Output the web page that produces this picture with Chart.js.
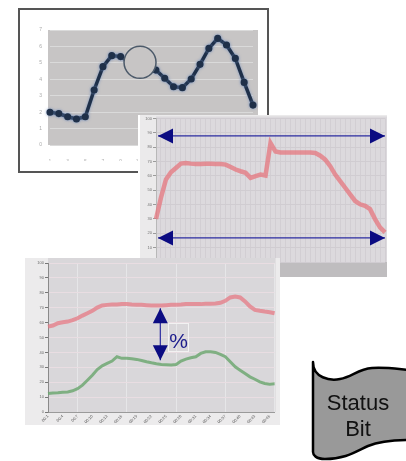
<!DOCTYPE html>
<html>
<head>
<meta charset="utf-8">
<script src="https://cdn.jsdelivr.net/npm/chart.js@4.4.1/dist/chart.umd.min.js"></script>
<style>
  body { margin: 0; background: #fff; font-family: 'Liberation Sans', Arial, sans-serif; }
  #page { position: relative; width: 406px; height: 461px; overflow: hidden; background: #fff; }
  .panel { position: absolute; box-sizing: border-box; }
  #panel1 { left: 18px; top: 8px; width: 251px; height: 165px; border: 2px solid #555; background: #fff; }
  #panel2 { left: 138px; top: 115px; width: 249px; height: 162px; background: #ebeaeb; }
  #panel3 { left: 25px; top: 258px; width: 255px; height: 167px; background: #ecebec; }
  #pct { position: absolute; left: 168px; top: 323px; width: 21px; height: 29px; box-sizing: border-box;
         border: 1px solid #f2f2f2; color: #1c1c8c; font-size: 21px; line-height: 33px; text-align: center; }
  #statusShape { position: absolute; left: 0; top: 0; }
  #statusText { position: absolute; left: 313px; top: 390px; width: 90px; text-align: center;
                font-size: 22px; line-height: 26px; color: #111; }
</style>
</head>
<body>
<div id="page">
  <div class="panel" id="panel1"><canvas id="chart1" width="247" height="161"></canvas></div>
  <div class="panel" id="panel2"><canvas id="chart2" width="249" height="162"></canvas></div>
  <div class="panel" id="panel3"><canvas id="chart3" width="255" height="167"></canvas></div>
  <div id="pct">%</div>
  <svg id="statusShape" width="406" height="461">
    <path d="M313,362 C313,378 330,381 340,379 C352,377 358,369 372,368 C385,367 398,369 410,370
             L410,440 C395,440 380,441 368,446 C355,452 345,459 325,459 C316,459 313,455 313,452 Z"
          fill="#999999" stroke="#000" stroke-width="2.5" stroke-linejoin="round"/>
  </svg>
  <div id="statusText">Status<br>Bit</div>
</div>
<script>
// panel 1: navy trend with markers
const trendLabels = ['1','2','3','4','5','6','7','8','9','10','11','12','13','14','15','16','17','18','19','20','21','22','23','24'];
const trendValues = [1.99, 1.91, 1.72, 1.58, 1.72, 3.35, 4.77, 5.44, 5.38, 5.07, 4.87, 4.71,
                     4.56, 4.06, 3.55, 3.49, 4.02, 4.91, 5.88, 6.49, 6.09, 5.27, 3.81, 2.43];
const trendCircle = { x: 10.2, y: 5.03 };

// panel 2: red plateau between two span arrows
const spanLabels = ['1','2','3','4','5','6','7','8','9','10','11','12','13','14','15','16','17','18','19','20',
                    '21','22','23','24','25','26','27','28','29','30','31','32','33','34','35','36','37','38','39','40',
                    '41','42','43','44','45','46','47'];
const spanValues = [29.9, 44.8, 57.5, 62.5, 65.5, 68.5, 69.0, 68.5, 68.3, 68.3, 68.5, 68.5, 68.3, 68.3, 67.8, 66.2,
                    64.4, 63.2, 62.1, 58.6, 59.8, 60.9, 60.2, 82.8, 77.0, 76.3, 76.3, 76.3, 76.3, 76.3, 76.3, 76.3,
                    75.9, 74.0, 71.3, 66.7, 60.9, 56.3, 51.7, 47.1, 42.5, 40.2, 39.1, 36.8, 29.9, 24.1, 20.7];
const spanArrowLevels = [87.8, 16.8];

// panel 3: red and green series with the % gap arrow
const gapLabels = ['1','2','3','4','5','6','7','8','9','10','11','12','13','14','15','16','17','18','19','20',
                   '21','22','23','24','25','26','27','28','29','30','31','32','33','34','35','36','37','38','39','40',
                   '41','42','43','44','45','46','47'];
const upperValues = [57.3, 58.0, 59.6, 60.2, 60.7, 61.6, 62.9, 64.7, 66.3, 67.9, 70.1, 71.5, 71.9, 72.1, 72.1, 72.4,
                     72.4, 72.1, 71.9, 71.9, 71.7, 71.5, 71.5, 71.5, 71.7, 71.9, 71.9, 72.1, 72.4, 72.4, 72.4, 72.4,
                     72.6, 72.6, 72.8, 73.3, 74.6, 76.9, 77.5, 76.9, 74.2, 70.8, 68.5, 67.9, 67.4, 67.0, 66.3];
const lowerValues = [12.4, 12.8, 13.0, 13.3, 13.5, 14.2, 15.7, 18.0, 21.3, 24.7, 28.5, 31.0, 32.6, 34.2, 37.1, 36.0,
                     36.0, 35.7, 35.3, 34.6, 33.7, 33.0, 32.4, 31.9, 31.7, 31.5, 31.9, 34.2, 35.5, 36.4, 37.1, 39.3,
                     40.4, 40.4, 40.0, 38.7, 37.1, 33.7, 30.3, 28.1, 25.8, 23.6, 22.0, 20.2, 19.1, 18.7, 18.9];
const gapArrow = { x: 22.8, top: 69.7, bottom: 34.8 };

function arrowHead(ctx, x, y, angle, len, half) {
    ctx.save();
    ctx.translate(x, y);
    ctx.rotate(angle);
    ctx.beginPath();
    ctx.moveTo(0, 0);
    ctx.lineTo(-len, -half);
    ctx.lineTo(-len, half);
    ctx.closePath();
    ctx.fillStyle = '#0b0b82';
    ctx.fill();
    ctx.restore();
}

function doubleArrow(ctx, x1, y1, x2, y2) {
    const angle = Math.atan2(y2 - y1, x2 - x1);
    ctx.save();
    ctx.strokeStyle = '#2b2ba0';
    ctx.lineWidth = 1.2;
    ctx.beginPath();
    ctx.moveTo(x1, y1);
    ctx.lineTo(x2, y2);
    ctx.stroke();
    ctx.restore();
    arrowHead(ctx, x2, y2, angle, 15, 7.5);
    arrowHead(ctx, x1, y1, angle + Math.PI, 15, 7.5);
}

function baseOptions() {
    return {
        responsive: false,
        animation: false,
        events: [],
        plugins: { legend: { display: false }, tooltip: { enabled: false } }
    };
}

document.addEventListener('DOMContentLoaded', function() {

    // ---------- panel 1 ----------
    const opts1 = baseOptions();
    opts1.layout = { padding: { left: 0, top: 20, right: 14, bottom: 10 } };
    opts1.scales = {
        x: {
            offset: false,
            grid: { display: false },
            border: { display: false },
            ticks: { font: { size: 5 }, color: '#b4b4b4', maxRotation: 0, autoSkip: false, padding: 6,
                     callback: function(v, i) { return i % 2 === 0 ? this.getLabelForValue(v) : ''; } },
            afterFit: function(s) { s.height = 16; }
        },
        y: {
            min: 0, max: 7,
            ticks: { stepSize: 1, font: { size: 5 }, color: '#aaa', padding: 8 },
            grid: { color: '#dadada', drawTicks: false },
            border: { display: false },
            afterFit: function(s) { s.width = 30; }
        }
    };
    new Chart(document.getElementById('chart1'), {
        type: 'line',
        data: {
            labels: trendLabels,
            datasets: [{
                data: trendValues,
                borderColor: '#1f3049',
                backgroundColor: '#1f3049',
                pointBackgroundColor: '#1f3049',
                pointBorderColor: '#1f3049',
                pointRadius: 1.8,
                borderWidth: 3.5,
                tension: 0
            }]
        },
        options: opts1,
        plugins: [{
            id: 'plotGray',
            beforeDraw(chart) {
                const a = chart.chartArea, ctx = chart.ctx;
                ctx.save();
                ctx.fillStyle = '#c7c5c5';
                ctx.fillRect(a.left - 2, a.top, a.right - a.left + 7, a.bottom - a.top);
                ctx.restore();
            },
            beforeDatasetsDraw(chart) {
                chart.ctx.save();
                chart.ctx.shadowColor = 'rgba(110,140,190,0.8)';
                chart.ctx.shadowBlur = 3;
            },
            afterDatasetsDraw(chart) {
                const ctx = chart.ctx;
                ctx.restore();
                const cx = chart.scales.x.getPixelForValue(trendCircle.x);
                const cy = chart.scales.y.getPixelForValue(trendCircle.y);
                ctx.save();
                ctx.beginPath();
                ctx.arc(cx, cy, 16, 0, Math.PI * 2);
                ctx.fillStyle = '#c7c5c5';
                ctx.fill();
                ctx.strokeStyle = '#4c5a6a';
                ctx.lineWidth = 1.5;
                ctx.stroke();
                ctx.restore();
            }
        }]
    });

    // ---------- panel 2 ----------
    const opts2 = baseOptions();
    opts2.layout = { padding: { left: 0, top: 2, right: 2, bottom: 0 } };
    opts2.scales = {
        x: {
            offset: false,
            grid: { color: '#d2ced3', drawTicks: false },
            border: { display: false },
            ticks: { display: false },
            afterFit: function(s) { s.height = 15; }
        },
        y: {
            min: 0, max: 100,
            ticks: { stepSize: 5, font: { size: 4 }, color: '#707070', padding: 1 },
            grid: { color: '#d0ccd1', tickColor: '#9a9a9a', tickLength: 3 },
            border: { color: '#b8b8b8' },
            afterFit: function(s) { s.width = 18; }
        }
    };
    new Chart(document.getElementById('chart2'), {
        type: 'line',
        data: {
            labels: spanLabels,
            datasets: [{
                data: spanValues,
                borderColor: 'rgba(230,118,126,0.75)',
                borderWidth: 4.5,
                pointRadius: 0,
                tension: 0
            }]
        },
        options: opts2,
        plugins: [{
            id: 'spanBg',
            beforeDraw(chart) {
                const a = chart.chartArea, ctx = chart.ctx;
                ctx.save();
                ctx.fillStyle = '#dcd9dd';
                ctx.fillRect(a.left, a.top - 2, a.right - a.left + 2, a.bottom - a.top + 2);
                ctx.fillStyle = '#bfbdbf';
                ctx.fillRect(0, a.bottom, chart.width, chart.height - a.bottom);
                ctx.fillStyle = '#ffffff';
                ctx.fillRect(0, 0, 2, a.bottom);
                ctx.restore();
            },
            afterDatasetsDraw(chart) {
                const a = chart.chartArea;
                spanArrowLevels.forEach(function(v) {
                    const y = chart.scales.y.getPixelForValue(v);
                    doubleArrow(chart.ctx, a.left + 2, y, a.right, y);
                });
            }
        }]
    });

    // ---------- panel 3 ----------
    const opts3 = baseOptions();
    opts3.layout = { padding: { left: 0, top: 5, right: 1, bottom: 0 } };
    opts3.scales = {
        x: {
            offset: false,
            grid: {
                color: function(c) { return c.index % 10 === 6 ? '#e6e6e8' : 'rgba(0,0,0,0)'; },
                drawTicks: false
            },
            border: { color: '#9a9a9a' },
            ticks: { font: { size: 4 }, color: '#555', autoSkip: false, minRotation: 45, maxRotation: 45, padding: 2,
                     callback: function(v, i) { return i % 3 === 0 ? '00:' + this.getLabelForValue(v) : ''; } },
            afterFit: function(s) { s.height = 13; }
        },
        y: {
            min: 0, max: 100,
            ticks: { stepSize: 5, font: { size: 4 }, color: '#6a6a6a', padding: 1 },
            grid: { color: '#e9dde2', tickColor: '#777', tickLength: 3 },
            border: { color: '#8a8a8a' },
            afterFit: function(s) { s.width = 23; }
        }
    };
    new Chart(document.getElementById('chart3'), {
        type: 'line',
        data: {
            labels: gapLabels,
            datasets: [
                {
                    data: upperValues,
                    borderColor: 'rgba(230,122,132,0.75)',
                    borderWidth: 4,
                    pointRadius: 0,
                    tension: 0
                },
                {
                    data: lowerValues,
                    borderColor: 'rgba(104,165,108,0.8)',
                    borderWidth: 3,
                    pointRadius: 0,
                    tension: 0
                }
            ]
        },
        options: opts3,
        plugins: [{
            id: 'gapBg',
            beforeDraw(chart) {
                const a = chart.chartArea, ctx = chart.ctx;
                ctx.save();
                ctx.fillStyle = '#d9d7da';
                ctx.fillRect(a.left, a.top - 5, a.right - a.left + 1, a.bottom - a.top + 5);
                ctx.restore();
            },
            afterDatasetsDraw(chart) {
                const x = chart.scales.x.getPixelForValue(gapArrow.x);
                const y1 = chart.scales.y.getPixelForValue(gapArrow.top);
                const y2 = chart.scales.y.getPixelForValue(gapArrow.bottom);
                doubleArrow(chart.ctx, x, y1, x, y2);
            }
        }]
    });
});
</script>
</body>
</html>
